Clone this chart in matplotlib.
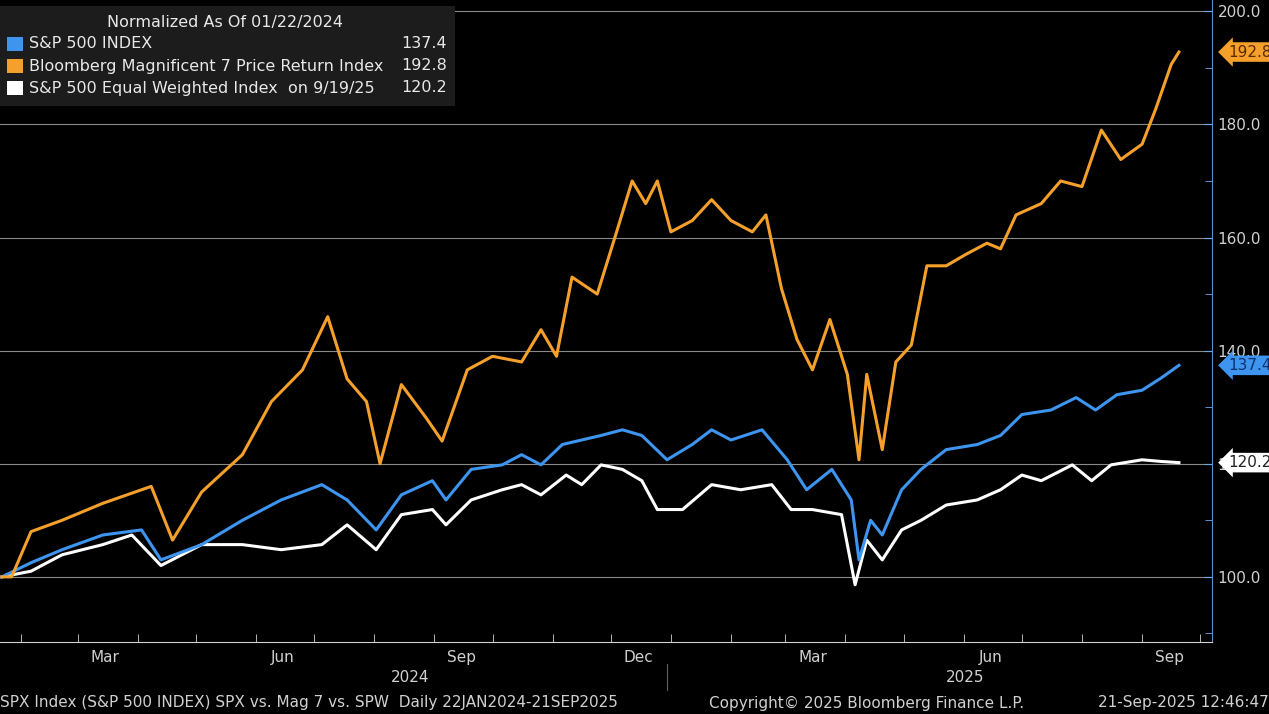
import matplotlib
matplotlib.use("Agg")
import matplotlib.pyplot as plt
import matplotlib.dates as mdates
import numpy as np
import datetime as dt

plt.rcParams['font.family'] = ['Liberation Sans Narrow', 'DejaVu Sans']

start = dt.datetime(2024, 1, 22)
mag_days = [0,5,15,31,52,77,88,103,124,139,155,168,178,188,195,206,219,227,240,253,268,278,286,294,307,317,325,332,338,345,356,366,376,387,394,402,410,418,427,436,442,446,454,461,469,477,487,497,508,515,523,536,546,557,567,577,588,595,603,607]
mag_vals = [100,100,108,110,113,116,106.5,115,121.6,131,136.6,146,135,131,120,134,128,124,136.6,139,138,143.7,139,153,150,161,170,166,170,161,163,166.7,163,161,164,151,142,136.6,145.5,135.8,120.7,135.8,122.5,138,141,155,155,157,159,158,164,166,170,169,179,173.8,176.5,182.7,190.6,192.8]
spx_days = [0,15,31,52,72,82,103,124,144,165,178,193,206,222,229,242,258,268,278,289,299,309,320,330,343,356,366,376,392,405,415,428,438,442,448,454,464,474,487,503,515,526,541,554,564,575,588,598,607]
spx_vals = [100,102.5,104.8,107.4,108.3,103,105.7,110,113.6,116.3,113.6,108.3,114.5,117,113.6,119,119.8,121.6,119.8,123.4,124.2,125,126,125,120.7,123.4,126,124.2,126,120.7,115.4,119,113.6,103,110,107.4,115.4,119,122.5,123.4,125,128.7,129.5,131.7,129.5,132.2,133,135.2,137.4]
spw_days = [0,15,31,52,67,82,103,124,144,165,178,193,206,222,229,242,258,268,278,291,299,309,320,330,338,351,366,381,397,407,418,433,440,446,454,464,474,487,503,515,526,536,552,562,572,588,598,607]
spw_vals = [100,101,103.9,105.7,107.4,102,105.7,105.7,104.8,105.7,109.2,104.8,111,111.9,109.2,113.6,115.4,116.3,114.5,118,116.3,119.8,119,117,111.9,111.9,116.3,115.4,116.3,111.9,111.9,111,98.6,106.5,103,108.3,110,112.7,113.6,115.4,118,117,119.8,117,119.8,120.7,120.4,120.2]

names = ["S&P 500 INDEX", "Bloomberg Magnificent 7 Price Return Index", "S&P 500 Equal Weighted Index  on 9/19/25"]
last_vals = ["137.4", "192.8", "120.2"]
colors = ["#3d95f0", "#f5a02a", "#ffffff"]

def todates(d):
    return [start + dt.timedelta(days=int(x)) for x in d]

fig = plt.figure(figsize=(12.69, 7.14), dpi=100, facecolor='black')
ax = fig.add_axes([0.0, 0.101, 0.955, 0.899], facecolor='black')
ax.plot(todates(spw_days), spw_vals, color=colors[2], lw=2.2, zorder=3)
ax.plot(todates(spx_days), spx_vals, color=colors[0], lw=2.2, zorder=4)
ax.plot(todates(mag_days), mag_vals, color=colors[1], lw=2.2, zorder=5)

ax.set_xlim(dt.datetime(2024, 1, 21), dt.datetime(2025, 10, 7))
ax.set_ylim(88.5, 202)
ax.yaxis.tick_right()
ax.set_yticks(np.arange(100, 201, 20))
ax.set_yticks(np.arange(90, 201, 10), minor=True)
ax.set_yticklabels([f"{v:.1f}" for v in np.arange(100, 201, 20)])
ax.tick_params(axis='y', which='major', colors='#6fa8e8', labelcolor='#d0d0d0', labelsize=11, length=6, direction='in', pad=4)
ax.tick_params(axis='y', which='minor', colors='#6fa8e8', length=5, direction='in')
ax.grid(axis='y', which='major', color='#8a8a8a', lw=0.8)
for s in ['top', 'left']:
    ax.spines[s].set_visible(False)
ax.spines['right'].set_color('#5b8fd0')
ax.spines['bottom'].set_color('#d0d0d0')

ax.xaxis.set_major_locator(mdates.MonthLocator(bymonth=[3, 6, 9, 12], bymonthday=15))
ax.xaxis.set_major_formatter(mdates.DateFormatter('%b'))
ax.xaxis.set_minor_locator(mdates.MonthLocator())
ax.tick_params(axis='x', which='major', length=0, labelcolor='#d0d0d0', labelsize=11, pad=6)
ax.tick_params(axis='x', which='minor', length=6, color='#d0d0d0', direction='in')

# year labels
fig.text(410/1269, 1-677/714, "2024", color='#d0d0d0', fontsize=11, ha='center', va='center')
fig.text(965/1269, 1-677/714, "2025", color='#d0d0d0', fontsize=11, ha='center', va='center')
fig.add_artist(plt.Line2D([667/1269, 667/1269], [1-690/714, 1-664/714], color='#606060', lw=0.8))

# footer
fy = 1-703/714
fig.text(0.0, fy, "SPX Index (S&P 500 INDEX) SPX vs. Mag 7 vs. SPW  Daily 22JAN2024-21SEP2025", color='#d0d0d0', fontsize=11, ha='left', va='center')
fig.text(709/1269, fy, "Copyright\u00a9 2025 Bloomberg Finance L.P.", color='#d0d0d0', fontsize=11, ha='left', va='center')
fig.text(1.0, fy, "21-Sep-2025 12:46:47", color='#d0d0d0', fontsize=11, ha='right', va='center')

# value tags
for v, c, tc in [(137.4, colors[0], '#10306a'), (192.8, colors[1], '#5a2a00'), (120.2, colors[2], '#222222')]:
    ax.annotate(f"{v:.1f}", xy=(1.0, v), xycoords=('axes fraction', 'data'), xytext=(12, 0), textcoords='offset points',
                ha='left', va='center', fontsize=11, color=tc, annotation_clip=False,
                bbox=dict(boxstyle='larrow,pad=0.15', fc=c, ec='none'))

# legend box
fig.patches.append(plt.Rectangle((0, 1-106/714), 455/1269, 100/714, transform=fig.transFigure, fc='#1c1c1c', ec='none', zorder=10))
fig.text(225/1269, 1-23/714, "Normalized As Of 01/22/2024", color='#e8e8e8', fontsize=11.5, ha='center', va='center', zorder=11)
for i, (n, lv, c) in enumerate(zip(names, last_vals, colors)):
    y = 1-(44+22*i)/714
    fig.patches.append(plt.Rectangle((7/1269, y-7/714), 16/1269, 14/714, transform=fig.transFigure, fc=c, ec='none', zorder=11))
    fig.text(29/1269, y, n, color='#e8e8e8', fontsize=11.5, ha='left', va='center', zorder=11)
    fig.text(447/1269, y, lv, color='#e8e8e8', fontsize=11.5, ha='right', va='center', zorder=11)

fig.savefig("out.png", dpi=100, facecolor='black')
